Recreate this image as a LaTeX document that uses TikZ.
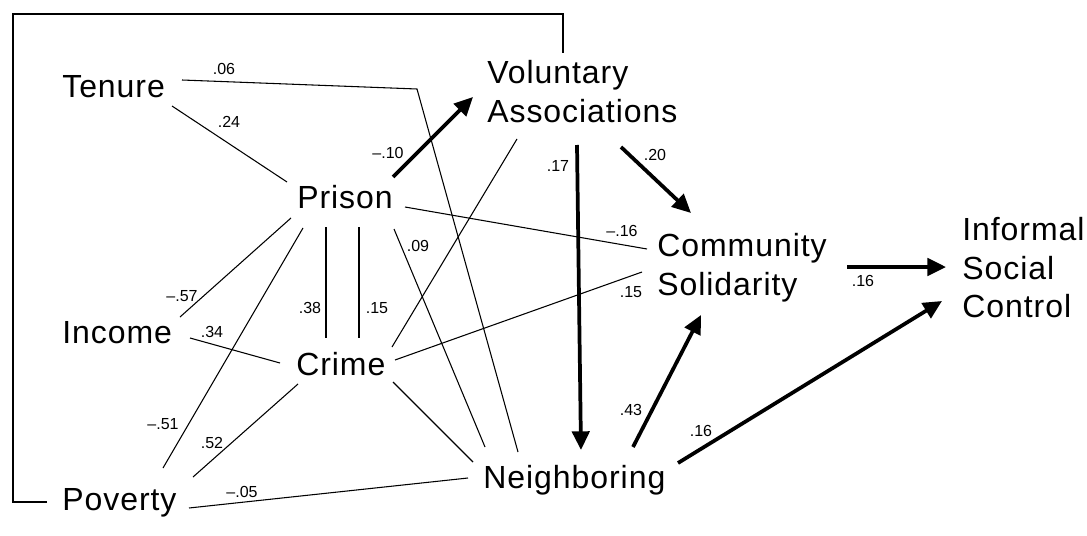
\documentclass[tikz,border=0pt]{standalone}
\usepackage{fontspec}
\setmainfont{Liberation Sans}
\newfontfamily\varfont[LetterSpace=3]{Liberation Sans}
\usetikzlibrary{arrows.meta}
\begin{document}
\begin{tikzpicture}[x=0.75pt,y=-0.75pt,
  var/.style={inner sep=0pt,font=\varfont\fontsize{24}{29}\selectfont},
  mvar/.style={var,align=left,anchor=north west},
  coef/.style={inner sep=0pt,font=\fontsize{12}{13}\selectfont},
  thin/.style={line width=0.8pt},
  path/.style={line width=2.8pt,-{Triangle[length=14pt,width=13pt]}},
  fb/.style={line width=0.8pt}]
\path[use as bounding box] (0,0) rectangle (1087,535);
% variables
\node[var,anchor=base west] (tenure) at (62,97) {Tenure};
\node[var,anchor=base west] (prison) at (297,208) {Prison};
\node[var,anchor=base west] (income) at (62,343) {Income};
\node[var,anchor=base west] (crime) at (296,375) {Crime};
\node[var,anchor=base west] (poverty) at (62,510) {Poverty};
\node[var,anchor=base west] (neigh) at (483,488) {Neighboring};
\node[mvar] (va) at (487,60) {Voluntary\\Associations};
\node[mvar] (cs) at (657,233) {Community\\Solidarity};
\node[mvar] (isc) at (962,217) {Informal\\Social\\Control};
\coordinate (bend) at (417,89);
% thin correlational lines
\draw[thin] ([shift={(110,9)}]tenure.base west) -- ([shift={(-10,-26)}]prison.base west);
\draw[thin] ([shift={(120,-17)}]tenure.base west) -- (bend) -- ([shift={(35,-36)}]neigh.base west);
\draw[thin] ([shift={(30,79)}]va.north west) -- ([shift={(96,-28)}]crime.base west);
\draw[thin] ([shift={(108,-1)}]prison.base west) -- ([shift={(-10,16)}]cs.north west);
\draw[thin] ([shift={(99,-15)}]crime.base west) -- ([shift={(-15,39)}]cs.north west);
\draw[thin] ([shift={(-6,10)}]prison.base west) -- ([shift={(118,-26)}]income.base west);
\draw[thin] ([shift={(6,20)}]prison.base west) -- ([shift={(101,-42)}]poverty.base west);
\draw[thin] ([shift={(29,19)}]prison.base west) -- ([shift={(30,-37)}]crime.base west);
\draw[thin] ([shift={(62,19)}]prison.base west) -- ([shift={(63,-37)}]crime.base west);
\draw[thin] ([shift={(97,21)}]prison.base west) -- ([shift={(2,-41)}]neigh.base west);
\draw[thin] ([shift={(128,-5)}]income.base west) -- ([shift={(-16,-12)}]crime.base west);
\draw[thin] ([shift={(2,9)}]crime.base west) -- ([shift={(131,-33)}]poverty.base west);
\draw[thin] ([shift={(97,7)}]crime.base west) -- ([shift={(-10,-26)}]neigh.base west);
\draw[thin] ([shift={(127,-2)}]poverty.base west) -- ([shift={(-15,-10)}]neigh.base west);
% feedback line
\draw[fb] ([shift={(-15,-8)}]poverty.base west) -| (13,14) -| ([shift={(76,-7)}]va.north west);
% causal paths
\draw[path] ([shift={(96,-31)}]prison.base west) -- ([shift={(-14,37)}]va.north west);
\draw[path] ([shift={(90,85)}]va.north west) -- ([shift={(98,-38)}]neigh.base west);
\draw[path] ([shift={(134,87)}]va.north west) -- ([shift={(34,-20)}]cs.north west);
\draw[path] ([shift={(150,-41)}]neigh.base west) -- ([shift={(44,82)}]cs.north west);
\draw[path] ([shift={(195,-25)}]neigh.base west) -- ([shift={(-20,84)}]isc.north west);
\draw[path] ([shift={(190,34)}]cs.north west) -- ([shift={(-16,50)}]isc.north west);
% coefficients
\node[coef] (c1) at (224,69) {.06};
\node[coef] (c2) at (229,122) {.24};
\node[coef] (c3) at (388,153) {\textendash.10};
\node[coef] (c4) at (558,166) {.17};
\node[coef] (c5) at (655,155) {.20};
\node[coef] (c6) at (182,296) {\textendash.57};
\node[coef] (c7) at (212,332) {.34};
\node[coef] (c8) at (310,308) {.38};
\node[coef] (c9) at (377,308) {.15};
\node[coef] (c10) at (418,246) {.09};
\node[coef] (c11) at (622,231) {\textendash.16};
\node[coef] (c12) at (631,292) {.15};
\node[coef] (c13) at (163,424) {\textendash.51};
\node[coef] (c14) at (212,443) {.52};
\node[coef] (c15) at (242,492) {\textendash.05};
\node[coef] (c16) at (631,410) {.43};
\node[coef] (c17) at (701,431) {.16};
\node[coef] (c18) at (863,281) {.16};
\end{tikzpicture}
\end{document}
